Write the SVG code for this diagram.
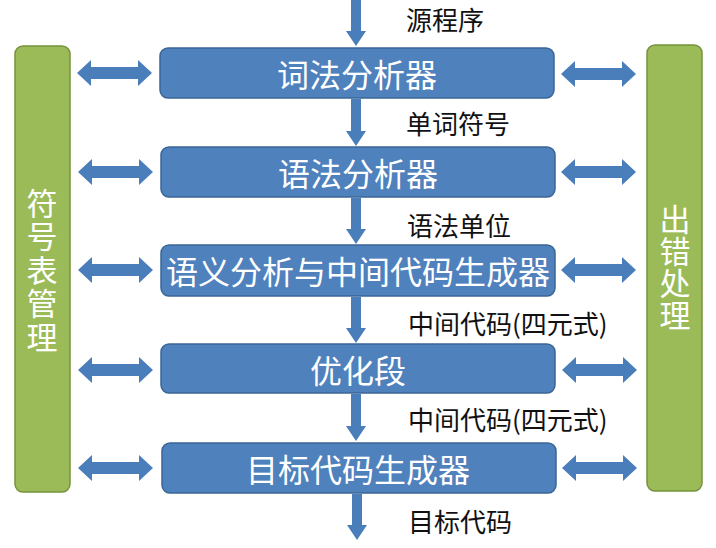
<svg xmlns="http://www.w3.org/2000/svg" width="716" height="548" viewBox="0 0 716 548">
<style>
.box{fill:#4F81BD;stroke:#3B6596;stroke-width:1.5}
.bar{fill:#9BBB59;stroke:#76923C;stroke-width:1.5}
.arr{fill:#4A7EBB}
.bt{font-family:"Noto Sans CJK SC","Noto Sans",sans-serif;font-size:32px;fill:#fff;text-anchor:middle;dominant-baseline:central}
.st{font-family:"Noto Sans CJK SC","Noto Sans",sans-serif;font-size:31px;fill:#fff;text-anchor:middle;writing-mode:vertical-rl}
.lb{font-family:"Noto Sans CJK SC","Noto Sans",sans-serif;font-size:26px;fill:#111;dominant-baseline:central}
</style>
<defs>
<path id="ha" d="M0,0 L14,-13 V-6 H61 V-13 L75,0 L61,13 V6 H14 V13 Z"/>
</defs>
<g id="connectors">
<path class="arr" d="M351,0 H361 V31 H366 L356,46 L346,31 H351 Z"/>
<path class="arr" d="M351,99 H361 V131 H366 L356,146 L346,131 H351 Z"/>
<path class="arr" d="M351,198 H361 V229 H366 L356,244 L346,229 H351 Z"/>
<path class="arr" d="M351,297 H361 V328 H366 L356,343 L346,328 H351 Z"/>
<path class="arr" d="M351,394 H361 V426 H366 L356,441 L346,426 H351 Z"/>
<path class="arr" d="M352,494 H362 V525 H367 L357,540 L347,525 H352 Z"/>
<use class="arr" href="#ha" x="77" y="73"/>
<use class="arr" href="#ha" x="78" y="172"/>
<use class="arr" href="#ha" x="78" y="270"/>
<use class="arr" href="#ha" x="78" y="370"/>
<use class="arr" href="#ha" x="78" y="468"/>
<use class="arr" href="#ha" x="561" y="74"/>
<use class="arr" href="#ha" x="561" y="172"/>
<use class="arr" href="#ha" x="561" y="270"/>
<use class="arr" href="#ha" x="562" y="370"/>
<use class="arr" href="#ha" x="562" y="468"/>
</g>
<g id="symtab">
<rect class="bar" x="15" y="46" width="55" height="446" rx="8"/>
<text class="st" x="42" y="271" letter-spacing="2.5">符号表管理</text>
</g>
<g id="error">
<rect class="bar" x="647" y="45" width="55" height="446" rx="8"/>
<text class="st" x="675" y="268" letter-spacing="1">出错处理</text>
</g>
<g id="lex">
<rect class="box" x="160" y="48" width="394" height="50" rx="8"/>
<text class="bt" x="357" y="73">词法分析器</text>
</g>
<g id="syn">
<rect class="box" x="161" y="147" width="394" height="50" rx="8"/>
<text class="bt" x="358" y="172">语法分析器</text>
</g>
<g id="sem">
<rect class="box" x="161" y="245" width="394" height="51" rx="8"/>
<text class="bt" x="358" y="270">语义分析与中间代码生成器</text>
</g>
<g id="opt">
<rect class="box" x="161" y="344" width="394" height="49" rx="8"/>
<text class="bt" x="358" y="369">优化段</text>
</g>
<g id="gen">
<rect class="box" x="162" y="443" width="394" height="50" rx="8"/>
<text class="bt" x="358" y="468">目标代码生成器</text>
</g>
<g id="labels">
<text class="lb" x="406" y="18">源程序</text>
<text class="lb" x="406" y="122">单词符号</text>
<text class="lb" x="407" y="224">语法单位</text>
<text class="lb" x="408" y="322">中间代码(四元式)</text>
<text class="lb" x="408" y="418">中间代码(四元式)</text>
<text class="lb" x="408" y="520">目标代码</text>
</g>
</svg>
